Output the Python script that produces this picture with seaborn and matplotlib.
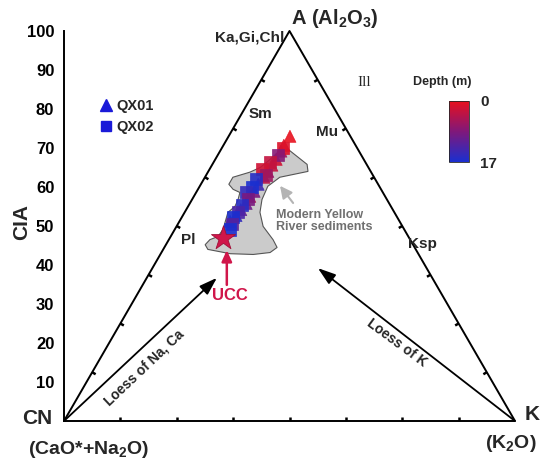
import numpy as np
import pandas as pd
import matplotlib
matplotlib.use("Agg")
import matplotlib.pyplot as plt
from matplotlib.colors import LinearSegmentedColormap, Normalize
from matplotlib.cm import ScalarMappable
from matplotlib.lines import Line2D
import seaborn as sns

# A-CN-K compositions (A = Al2O3, K = K2O, CN = rest), depth in m
qx01_A = [73.0, 70.7, 69.2, 67.1, 65.6, 64.0, 62.5, 60.7, 58.9, 57.6, 55.8, 54.2, 52.7, 51.2]
qx01_K = [13.6, 13.4, 13.5, 13.5, 13.3, 13.2, 13.1, 12.7, 12.7, 12.4, 12.5, 12.1, 11.8, 11.2]
qx01_depth = [0, 1, 6, 2, 3, 7, 4, 14, 9, 5, 10, 11, 15, 12]

qx02_A = [69.9, 68.1, 66.3, 64.5, 63.2, 62.0, 59.9, 58.6, 56.8, 55.5, 53.7, 52.2, 50.6, 49.1]
qx02_K = [13.6, 13.4, 12.5, 11.7, 13.2, 11.6, 11.7, 11.1, 12.4, 11.7, 11.7, 11.4, 12.0, 12.3]
qx02_depth = [1, 8, 3, 2, 6, 16, 17, 15, 9, 16, 13, 17, 12, 17]

ucc_A = 47.0
ucc_K = 11.7

# outline of the Modern Yellow River sediment field
yr_A = [69.7, 65.8, 64.0, 62.5, 60.2, 56.8, 53.5, 49.9, 46.5, 44.5, 43.2, 42.7, 42.9,
        44.0, 45.2, 46.5, 47.3, 49.1, 53.5, 55.0, 56.8, 58.6, 59.4, 60.7, 62.5, 63.8,
        65.0, 66.6, 68.9]
yr_K = [14.8, 21.0, 22.1, 16.6, 15.1, 15.5, 16.7, 19.2, 23.1, 25.0, 24.1, 20.6, 15.4,
        9.9, 8.7, 9.1, 10.5, 10.7, 9.6, 10.4, 10.2, 9.7, 7.8, 6.2, 6.2, 9.3, 11.0,
        11.9, 13.0]

cia_ticks = [10, 20, 30, 40, 50, 60, 70, 80, 90, 100]
depth_min, depth_max = 0, 17


def tern_x(a, k):
    return np.asarray(k) + np.asarray(a) / 2.0


sns.set_theme(style="white")
plt.rcParams["font.family"] = ["Liberation Sans", "DejaVu Sans"]
plt.rcParams["mathtext.fontset"] = "custom"
plt.rcParams["mathtext.rm"] = "Liberation Sans:bold"
plt.rcParams["mathtext.bf"] = "Liberation Sans:bold"

W, H = 550, 470
fig = plt.figure(figsize=(W / 100, H / 100), dpi=100)
ax = fig.add_axes([64 / W, 49 / H, 451 / W, 390 / H])
ax.set_xlim(0, 100)
ax.set_ylim(0, 100)
sx, sy = 4.51, 3.90  # pixels per data unit


def px(x, y):
    return x / W, 1 - y / H


# triangle
tri_x = [0, 100, 50, 0]
tri_y = [0, 0, 100, 0]
ax.plot(tri_x, tri_y, color="black", lw=1.4, clip_on=False, zorder=2)

# small inward ticks at 1/8 steps on each side
verts = np.array([[0, 0], [100, 0], [50, 100]], dtype=float)
for i in range(3):
    p0 = verts[i]
    p1 = verts[(i + 1) % 3]
    opp = verts[(i + 2) % 3]
    d = np.array([(p1[0] - p0[0]) * sx, (p1[1] - p0[1]) * sy])
    d /= np.linalg.norm(d)
    n = np.array([-d[1], d[0]])
    mid = (p0 + p1) / 2
    to_opp = np.array([(opp[0] - mid[0]) * sx, (opp[1] - mid[1]) * sy])
    if np.dot(n, to_opp) < 0:
        n = -n
    for f in np.arange(1, 8) / 8:
        p = p0 + f * (p1 - p0)
        q = p + np.array([n[0] * 4 / sx, n[1] * 4 / sy])
        ax.plot([p[0], q[0]], [p[1], q[1]], color="black", lw=1.8, solid_capstyle="butt")

# Yellow River field
ax.fill(tern_x(yr_A, yr_K), yr_A, facecolor="#cbcbcb", edgecolor="#555555", lw=0.8, zorder=3)

# samples
df = pd.DataFrame({
    "x": np.concatenate([tern_x(qx01_A, qx01_K), tern_x(qx02_A, qx02_K)]),
    "cia": qx01_A + qx02_A,
    "depth": qx01_depth + qx02_depth,
    "core": ["QX01"] * len(qx01_A) + ["QX02"] * len(qx02_A),
})
cmap = LinearSegmentedColormap.from_list("depth", ["#e8101e", "#80187a", "#1a2fd0"])
sns.scatterplot(data=df, x="x", y="cia", hue="depth", style="core",
                markers={"QX01": "^", "QX02": "s"}, palette=cmap,
                hue_norm=(depth_min, depth_max), s=75, edgecolor="face",
                linewidth=0.5, alpha=0.9, legend=False, ax=ax, zorder=4)

# UCC
ax.scatter(tern_x(ucc_A, ucc_K), ucc_A, marker="*", s=330, color="#d0164a",
           edgecolor="#a01038", lw=0.6, zorder=5)

# arrows
ax.annotate("", xy=(33.9, 36.7), xytext=(0, 0),
            arrowprops=dict(arrowstyle="-|>,head_length=0.9,head_width=0.3",
                            color="black", lw=1.3, shrinkA=0, shrinkB=0))
ax.annotate("", xy=(56.3, 39.2), xytext=(100, 0),
            arrowprops=dict(arrowstyle="-|>,head_length=0.9,head_width=0.3",
                            color="black", lw=1.3, shrinkA=0, shrinkB=0))
ax.annotate("", xy=(36.1, 43.8), xytext=(36.1, 34.9),
            arrowprops=dict(arrowstyle="-|>,head_length=0.55,head_width=0.25",
                            color="#d0164a", lw=1.8, shrinkA=0, shrinkB=0))
ax.annotate("", xy=(47.9, 60.3), xytext=(50.8, 55.9),
            arrowprops=dict(arrowstyle="-|>,head_length=0.6,head_width=0.3",
                            color="#b4b4b4", lw=1.5, shrinkA=0, shrinkB=0))

# axis styling
for side in ["top", "right", "bottom"]:
    ax.spines[side].set_visible(False)
ax.spines["left"].set_linewidth(1.4)
ax.spines["left"].set_color("black")
ax.set_xticks([])
ax.set_yticks(cia_ticks)
ax.set_yticklabels([str(t) for t in cia_ticks], fontsize=12, fontweight="bold")
ax.tick_params(axis="y", direction="out", length=5, width=1.4, pad=2, colors="black")
ax.set_xlabel("")
ax.set_ylabel("")
ax.patch.set_alpha(0)

# labels
fig.text(*px(22, 222), "CIA", rotation=90, fontsize=15, fontweight="bold", ha="center", va="center")
fig.text(*px(37, 419), "CN", fontsize=15, fontweight="bold", ha="center", va="center")
fig.text(*px(89, 450), "(CaO*+Na$_2$O)", fontsize=14, fontweight="bold", ha="center", va="center")
fig.text(*px(532, 414), "K", fontsize=15, fontweight="bold", ha="center", va="center")
fig.text(*px(511, 444), "(K$_2$O)", fontsize=14, fontweight="bold", ha="center", va="center")
fig.text(*px(291, 19), "A (Al$_2$O$_3$)", fontsize=14.5, fontweight="bold", ha="left", va="center")
fig.text(*px(284, 38), "Ka,Gi,Chl", fontsize=11, fontweight="bold", ha="right", va="center")
fig.text(*px(260, 114), "Sm", fontsize=11, fontweight="bold", ha="center", va="center")
fig.text(*px(327, 132), "Mu", fontsize=11, fontweight="bold", ha="center", va="center")
fig.text(*px(188, 240), "Pl", fontsize=11, fontweight="bold", ha="center", va="center")
fig.text(*px(422, 244), "Ksp", fontsize=11, fontweight="bold", ha="center", va="center")
fig.text(*px(364, 82), "Ill", fontsize=11, family=["Liberation Serif", "DejaVu Serif"],
         ha="center", va="center")
fig.text(*px(230, 296), "UCC", fontsize=12, fontweight="bold", color="#d0164a",
         ha="center", va="center")
fig.text(*px(276, 221), "Modern Yellow\nRiver sediments", fontsize=9, fontweight="bold",
         color="#707070", ha="left", va="center", linespacing=1.1)
fig.text(*px(144, 368), "Loess of Na, Ca", fontsize=10, fontweight="bold", rotation=43.4,
         rotation_mode="anchor", ha="center", va="center")
fig.text(*px(397, 343), "Loess of K", fontsize=10, fontweight="bold", rotation=-36.5,
         rotation_mode="anchor", ha="center", va="center")

# legend
handles = [Line2D([], [], marker="^", ls="", color="#1a1ad8", markersize=8),
           Line2D([], [], marker="s", ls="", color="#1a1ad8", markersize=7)]
leg = ax.legend(handles, ["QX01", "QX02"], loc="upper left", bbox_to_anchor=(0.045, 0.86),
                frameon=False, handletextpad=0.1, handlelength=1.2, labelspacing=0.5,
                prop={"weight": "bold", "size": 10.5})

# depth colour bar
cax = fig.add_axes([449 / W, 1 - 162 / H, 20 / W, 61 / H])
sm = ScalarMappable(norm=Normalize(depth_min, depth_max), cmap=cmap)
cb = fig.colorbar(sm, cax=cax)
cb.ax.invert_yaxis()
cb.set_ticks([depth_min, depth_max])
cb.ax.tick_params(length=0, labelsize=11, pad=8)
for t in cb.ax.get_yticklabels():
    t.set_fontweight("bold")
cb.outline.set_linewidth(0.6)
fig.text(*px(442, 82), "Depth (m)", fontsize=9, fontweight="bold", ha="center", va="center")

fig.savefig("out.png", dpi=100)
